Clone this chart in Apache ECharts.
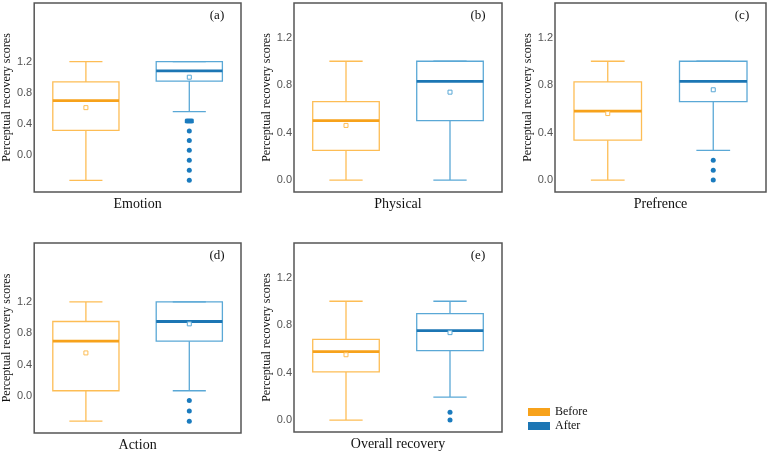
<!DOCTYPE html>
<html>
<head>
<meta charset="utf-8">
<script src="https://cdn.jsdelivr.net/npm/echarts@6/dist/echarts.min.js"></script>
<style>
  html, body { margin: 0; padding: 0; background: #fff; }
  #chart { width: 767px; height: 456px; }
</style>
</head>
<body>
<div id="chart"></div>
<script>
const groups = ['Before', 'After']
const panelNames = ['Emotion', 'Physical', 'Prefrence', 'Action', 'Overall recovery']
const panelTags = ['(a)', '(b)', '(c)', '(d)', '(e)']
const yTickValues = [0, 0.4, 0.8, 1.2]

// [low whisker, Q1, median, Q3, high whisker, mean]
const beforeStats = [
  [-0.32, 0.32, 0.70, 0.94, 1.2, 0.61],
  [0.0, 0.25, 0.50, 0.66, 1.0, 0.46],
  [0.0, 0.336, 0.58, 0.826, 1.0, 0.56],
  [-0.32, 0.068, 0.70, 0.95, 1.2, 0.55],
  [0.0, 0.405, 0.576, 0.68, 1.0, 0.55]
]
const afterStats = [
  [0.56, 0.95, 1.08, 1.2, 1.2, 1.0],
  [0.0, 0.50, 0.83, 1.0, 1.0, 0.74],
  [0.25, 0.66, 0.83, 1.0, 1.0, 0.76],
  [0.068, 0.70, 0.95, 1.2, 1.2, 0.92],
  [0.194, 0.584, 0.753, 0.896, 1.0, 0.736]
]
// outliers of the After group (ties repeated)
const afterOutliers = [
  [0.44, 0.44, 0.44, 0.31, 0.19, 0.064, -0.064, -0.19, -0.32],
  [],
  [0.168, 0.084, 0.0],
  [-0.056, -0.19, -0.32],
  [0.067, 0.0]
]

// layout of the five panels
const grids = [
  { left: 33, top: 3, width: 208, height: 189 },
  { left: 294, top: 3, width: 208, height: 189 },
  { left: 555, top: 3, width: 211, height: 189 },
  { left: 33, top: 243, width: 208, height: 190 },
  { left: 294, top: 243, width: 208, height: 189 }
]
const yRanges = [[-0.47, 1.95], [-0.1, 1.49], [-0.1, 1.49], [-0.47, 1.95], [-0.1, 1.49]]

const colors = {
  Before: { light: '#FDBD55', dark: '#F7A21B' },
  After: { light: '#5AA8D6', dark: '#1C76B4' }
}
const serif = '"Liberation Serif", "DejaVu Serif", serif'

const boxRenderer = (c) => (params, api) => {
  const x = api.value(0)
  const v = [1, 2, 3, 4, 5, 6].map(i => api.value(i))
  const bw = api.size([1, 0])[0] * 0.64
  const cap = bw / 2
  const p = v.map(val => api.coord([x, val]))
  const cx = p[0][0]
  const line = (x1, y1, x2, y2, color, w) => ({
    type: 'line',
    shape: { x1, y1, x2, y2 },
    style: { stroke: color, lineWidth: w }
  })
  return {
    type: 'group',
    children: [
      line(cx, p[0][1], cx, p[1][1], c.light, 1.3),
      line(cx, p[3][1], cx, p[4][1], c.light, 1.3),
      line(cx - cap / 2, p[0][1], cx + cap / 2, p[0][1], c.light, 1.3),
      line(cx - cap / 2, p[4][1], cx + cap / 2, p[4][1], c.light, 1.3),
      {
        type: 'rect',
        shape: { x: cx - bw / 2, y: p[3][1], width: bw, height: p[1][1] - p[3][1] },
        style: { fill: 'none', stroke: c.light, lineWidth: 1.3 }
      },
      line(cx - bw / 2, p[2][1], cx + bw / 2, p[2][1], c.dark, 2.8),
      {
        type: 'rect',
        shape: { x: cx - 2, y: p[5][1] - 2, width: 4, height: 4 },
        style: { fill: '#fff', stroke: c.light, lineWidth: 1 }
      }
    ]
  }
}

const series = []
panelNames.forEach((name, i) => {
  [beforeStats, afterStats].forEach((stats, g) => {
    const grp = groups[g]
    series.push({
      name: grp,
      type: 'custom',
      xAxisIndex: i,
      yAxisIndex: i,
      itemStyle: { color: colors[grp].dark },
      renderItem: boxRenderer(colors[grp]),
      encode: { x: 0, y: [1, 2, 3, 4, 5, 6] },
      data: [[g].concat(stats[i])]
    })
  })
  const counts = {}
  afterOutliers[i].forEach(v => { counts[v] = (counts[v] || 0) + 1 })
  series.push({
    name: 'outliers',
    type: 'scatter',
    xAxisIndex: i,
    yAxisIndex: i,
    itemStyle: { color: '#1A7BBE', opacity: 1 },
    data: Object.keys(counts).map(k => {
      const n = counts[k]
      return n > 1
        ? { value: [1, +k], symbol: 'roundRect', symbolSize: [5 + (n - 1) * 2, 5] }
        : { value: [1, +k], symbol: 'circle', symbolSize: 5 }
    })
  })
})

const chart = echarts.init(document.getElementById('chart'), null, { renderer: 'canvas' })
chart.setOption({
  animation: false,
  grid: grids.map(g => Object.assign({ show: true, borderColor: '#555', borderWidth: 1.5, containLabel: false }, g)),
  xAxis: panelNames.map((name, i) => ({
    type: 'category',
    gridIndex: i,
    data: groups,
    axisLine: { show: false },
    axisTick: { show: false },
    axisLabel: { show: false },
    name,
    nameLocation: 'middle',
    nameGap: 5,
    nameTextStyle: { fontFamily: serif, fontSize: 14, color: '#111' }
  })),
  yAxis: panelNames.map((name, i) => ({
    type: 'value',
    gridIndex: i,
    min: yRanges[i][0],
    max: yRanges[i][1],
    axisLine: { show: false },
    axisTick: { show: false },
    splitLine: { show: false },
    axisLabel: {
      customValues: yTickValues,
      formatter: v => v.toFixed(1),
      color: '#555',
      fontFamily: '"Liberation Sans", Arial, sans-serif',
      fontSize: 11,
      margin: 2
    },
    name: 'Perceptual recovery scores',
    nameLocation: 'middle',
    nameGap: 20,
    nameTextStyle: { fontFamily: serif, fontSize: 12, color: '#111' }
  })),
  legend: {
    data: groups,
    orient: 'vertical',
    left: 523,
    top: 401,
    icon: 'rect',
    itemWidth: 22,
    itemHeight: 8,
    itemGap: 2,
    textStyle: { fontFamily: serif, fontSize: 12, color: '#111' }
  },
  graphic: panelTags.map((tag, i) => ({
    type: 'text',
    x: grids[i].left + grids[i].width - 24,
    y: grids[i].top + 13,
    style: { text: tag, font: '13px ' + serif, fill: '#111', textAlign: 'center', textVerticalAlign: 'middle' }
  })),
  series
})
</script>
</body>
</html>
